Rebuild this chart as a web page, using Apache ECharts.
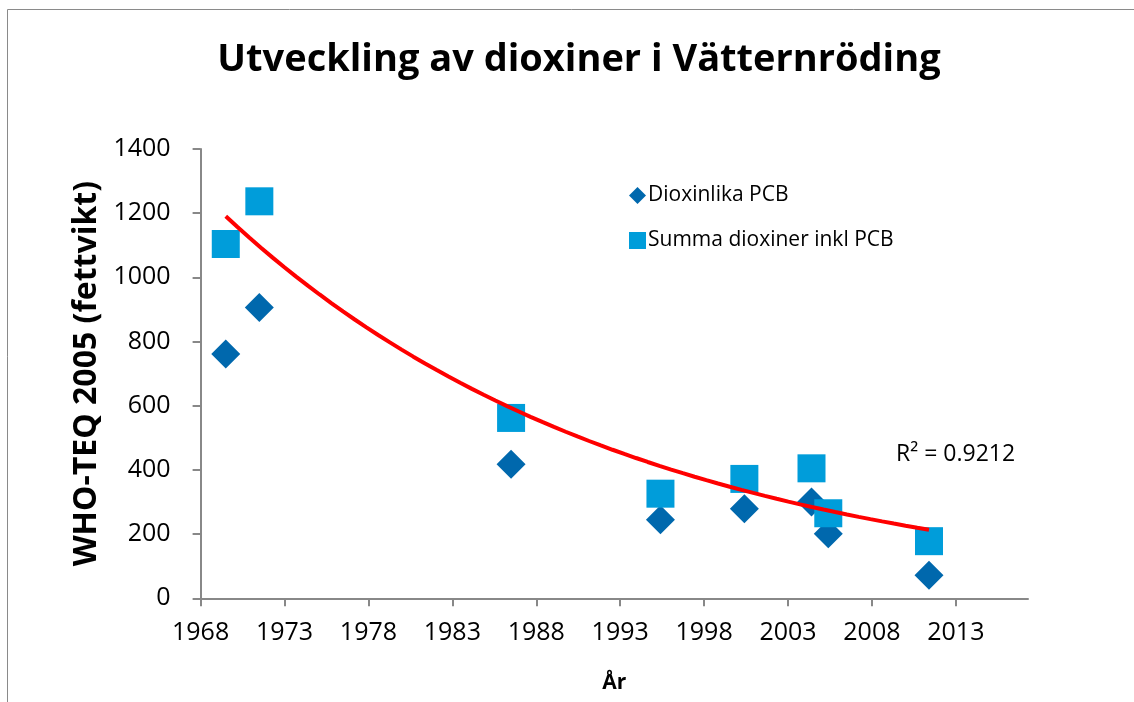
<!DOCTYPE html>
<html>
<head>
<meta charset="utf-8">
<script src="https://cdn.jsdelivr.net/npm/echarts@6/dist/echarts.min.js"></script>
<style>
  html, body { margin: 0; padding: 0; background: #fff; }
  #main { width: 1134px; height: 702px; }
</style>
</head>
<body>
<div id="main"></div>
<script>
var years = [1969.5, 1971.5, 1986.5, 1995.4, 2000.4, 2004.4, 2005.4, 2011.4];
var dioxinlikaPCB = [761, 906, 418, 245, 279, 300, 201, 72];
var summaDioxiner = [1104, 1237, 562, 326, 372, 405, 265, 178];
var xTicks = [1968, 1973, 1978, 1983, 1988, 1993, 1998, 2003, 2008, 2013];
var yTicks = [0, 200, 400, 600, 800, 1000, 1200, 1400];

var FONT = 'Open Sans';

function pairs(xs, ys) {
    return xs.map(function (x, i) { return [x, ys[i]]; });
}

// exponentiell trendlinje (minsta kvadrat på ln y), som Excel
function expTrend(xs, ys, steps) {
    var n = xs.length, mx = 0, my = 0;
    for (var i = 0; i < n; i++) { mx += xs[i]; my += Math.log(ys[i]); }
    mx /= n; my /= n;
    var sxy = 0, sxx = 0;
    for (var j = 0; j < n; j++) {
        sxy += (xs[j] - mx) * (Math.log(ys[j]) - my);
        sxx += (xs[j] - mx) * (xs[j] - mx);
    }
    var b = sxy / sxx;
    var x0 = Math.min.apply(null, xs), x1 = Math.max.apply(null, xs);
    var out = [];
    for (var k = 0; k <= steps; k++) {
        var x = x0 + (x1 - x0) * k / steps;
        out.push([x, Math.exp(my + b * (x - mx))]);
    }
    return out;
}

var dom = document.getElementById('main');
var myChart = echarts.init(dom);
var option = {
    animation: false,
    title: {
        text: 'Utveckling av dioxiner i Vätternröding',
        left: 574,
        textAlign: 'center',
        top: 36,
        textStyle: { fontFamily: FONT, fontWeight: 'bold', fontSize: 38, color: '#000' }
    },
    legend: {
        orient: 'vertical',
        left: 624,
        top: 180,
        itemGap: 24,
        itemWidth: 17,
        itemHeight: 17,
        textStyle: { fontFamily: FONT, fontSize: 21, color: '#000', padding: [0, 0, 0, -3] },
        data: [
            { name: 'Dioxinlika PCB', icon: 'diamond' },
            { name: 'Summa dioxiner inkl PCB', icon: 'rect' }
        ]
    },
    grid: { left: 200.6, right: 106, top: 149, bottom: 103.7 },
    xAxis: {
        type: 'value',
        min: 1968,
        max: 2017.3,
        name: 'År',
        nameLocation: 'middle',
        nameGap: 74,
        nameTextStyle: { fontFamily: FONT, fontWeight: 'bold', fontSize: 21, color: '#000' },
        splitLine: { show: false },
        axisLine: { lineStyle: { color: '#888', width: 2 } },
        axisTick: { customValues: xTicks, length: 8, lineStyle: { color: '#888', width: 2 } },
        axisLabel: {
            customValues: xTicks,
            margin: 22,
            formatter: function (v) { return String(v); },
            fontFamily: FONT, fontSize: 25, color: '#000'
        }
    },
    yAxis: {
        type: 'value',
        min: 0,
        max: 1400,
        interval: 200,
        name: 'WHO-TEQ 2005 (fettvikt)',
        nameLocation: 'middle',
        nameGap: 84,
        nameTextStyle: { fontFamily: FONT, fontWeight: 'bold', fontSize: 32, color: '#000' },
        splitLine: { show: false },
        axisLine: { show: true, lineStyle: { color: '#888', width: 2 } },
        axisTick: { show: true, length: 8, lineStyle: { color: '#888', width: 2 } },
        axisLabel: {
            customValues: yTicks,
            margin: 30,
            formatter: function (v) { return String(v); },
            fontFamily: FONT, fontSize: 25, color: '#000'
        }
    },
    graphic: [
        {
            type: 'rect',
            silent: true,
            shape: { x: 7.5, y: 9.5, width: 1130, height: 700 },
            style: { fill: 'none', stroke: '#8a8a8a', lineWidth: 1 }
        },
        {
            type: 'text',
            left: 896,
            top: 443,
            style: { text: 'R² = 0.9212', fontFamily: FONT, fontSize: 23, fill: '#000' }
        }
    ],
    series: [
        {
            name: 'Dioxinlika PCB',
            type: 'scatter',
            symbol: 'diamond',
            symbolSize: 29,
            itemStyle: { color: '#0068AD', opacity: 1 },
            data: pairs(years, dioxinlikaPCB)
        },
        {
            name: 'Summa dioxiner inkl PCB',
            type: 'scatter',
            symbol: 'rect',
            symbolSize: 28,
            itemStyle: { color: '#009DDA', opacity: 1 },
            data: pairs(years, summaDioxiner)
        },
        {
            name: 'Trend',
            type: 'line',
            showSymbol: false,
            symbol: 'none',
            silent: true,
            lineStyle: { color: '#FF0000', width: 4 },
            data: expTrend(years, summaDioxiner, 60)
        }
    ]
};
myChart.setOption(option);
</script>
</body>
</html>
